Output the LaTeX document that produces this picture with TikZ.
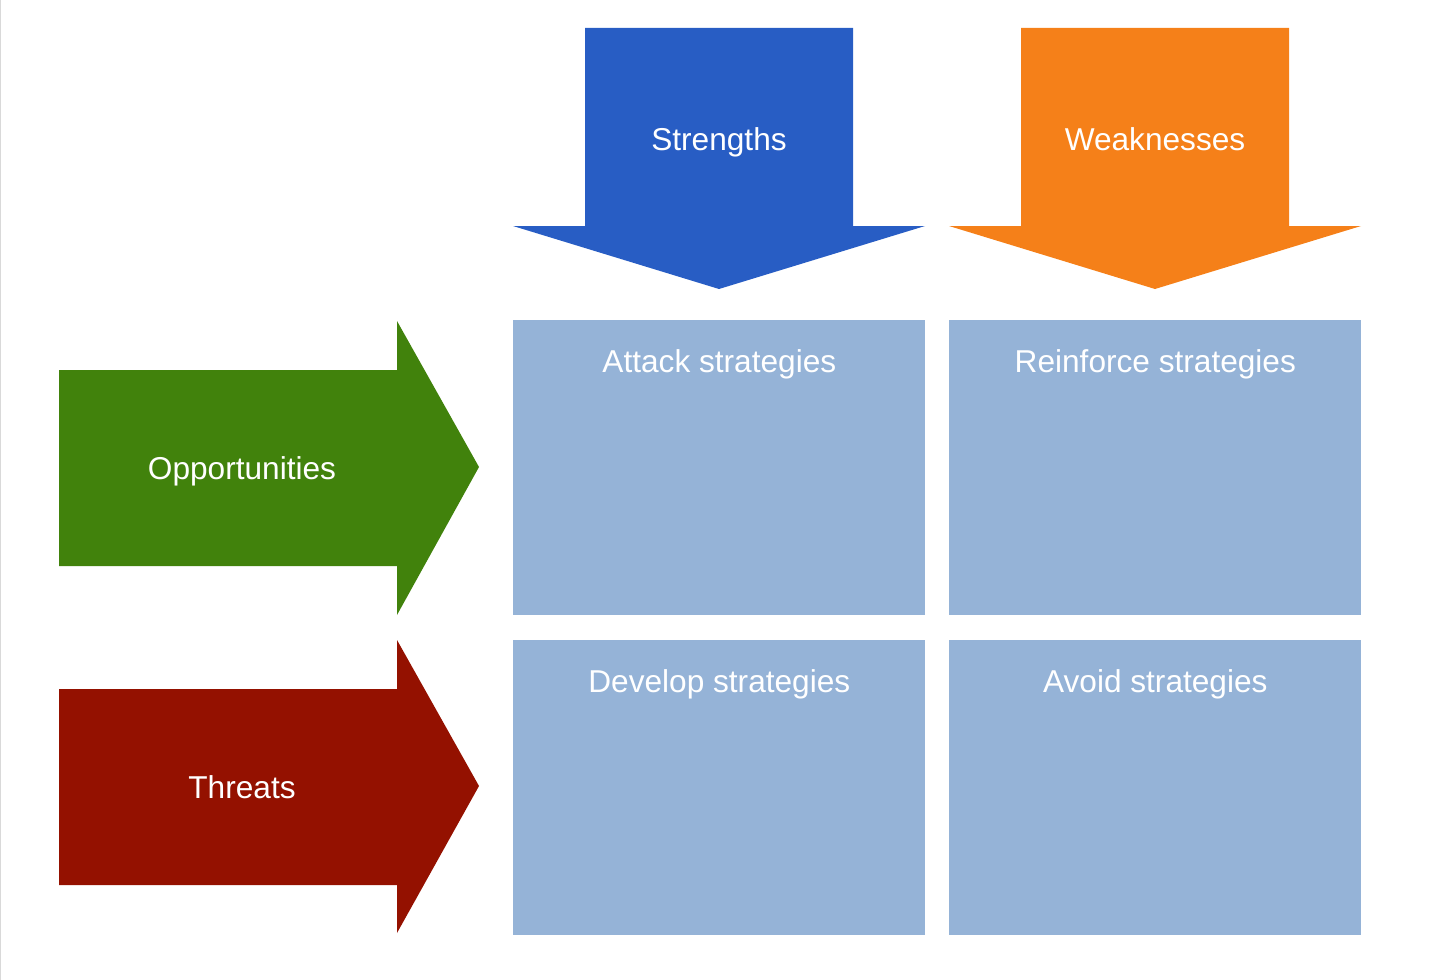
\documentclass[tikz,border=0pt]{standalone}
\usepackage{fontspec}
\setmainfont{Liberation Sans}
\usepackage{xcolor}
\usetikzlibrary{positioning,calc}

\definecolor{swotblue}{HTML}{285DC4}
\definecolor{swotorange}{HTML}{F58019}
\definecolor{swotgreen}{HTML}{41820C}
\definecolor{swotred}{HTML}{941100}
\definecolor{swotcell}{HTML}{95B3D7}

\begin{document}
\begin{tikzpicture}[x=0.02cm,y=-0.02cm,
    banner/.style={text=white,inner sep=0pt,anchor=base,font=\fontsize{18}{22}\selectfont},
    cell/.style={fill=swotcell,anchor=north west,inner sep=0pt,minimum width=8.24cm,minimum height=5.9cm}]
  \useasboundingbox (0,0) rectangle (1440,980);
  \draw[black!15,line width=1pt] (0.5,0) -- (0.5,980);

  % down arrows
  \fill[swotblue] (585,28) -- (853,28) -- (853,226) -- (925,226) -- (719,289)
    -- (513,226) -- (585,226) -- cycle;
  \fill[swotorange] (1021,28) -- (1289,28) -- (1289,226) -- (1361,226) -- (1155,289)
    -- (949,226) -- (1021,226) -- cycle;
  \node[banner] (str) at (719,151) {Strengths};
  \node[banner] (weak) at (1155,151) {Weaknesses};

  % right arrows
  \fill[swotgreen] (59,370) -- (397,370) -- (397,321) -- (479,467) -- (397,615)
    -- (397,566) -- (59,566) -- cycle;
  \fill[swotred] (59,689) -- (397,689) -- (397,640) -- (479,786) -- (397,933)
    -- (397,885) -- (59,885) -- cycle;
  \node[banner] (opp) at (242,479) {Opportunities};
  \node[banner] (thr) at (242,798) {Threats};

  % cells
  \node[cell] (attack) at (513,320) {};
  \node[cell] (reinf) at (949,320) {};
  \node[cell] (devel) at (513,640) {};
  \node[cell] (avoid) at (949,640) {};
  \node[banner] at ($(attack.north)+(0,52)$) {Attack strategies};
  \node[banner] at ($(reinf.north)+(0,52)$) {Reinforce strategies};
  \node[banner] at ($(devel.north)+(0,52)$) {Develop strategies};
  \node[banner] at ($(avoid.north)+(0,52)$) {Avoid strategies};
\end{tikzpicture}
\end{document}
